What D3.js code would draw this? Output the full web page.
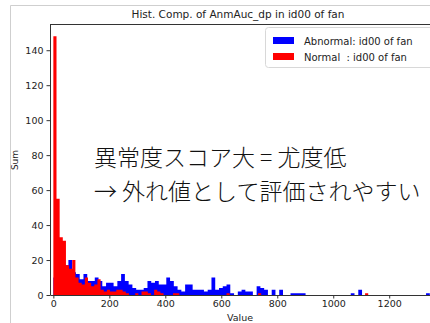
<!DOCTYPE html>
<html>
<head>
  <meta charset="utf-8">
  <script src="https://d3js.org/d3.v7.min.js"></script>
  <style>
    body { margin: 0; background: #fff; }
    text { font-family: "DejaVu Sans", sans-serif; fill: #222; }
  </style>
</head>
<body>
<svg id="chart" width="430" height="323"></svg>
<script>
  // histogram counts, 100 bins each (left edge = binStart + i * binWidth)
  let redStart = 0, redWidth = 11.25;
  let redCounts = [
    148, 55, 33, 31, 17, 15, 20, 10, 7, 6,
    10, 7, 5, 6, 9, 3, 2, 3, 2, 2,
    3, 3, 2, 1, 0, 0, 1, 0, 2, 2,
    1, 0, 3, 2, 1, 0, 0, 0, 1, 1,
    0, 0, 0, 0, 0, 0, 0, 0, 0, 0,
    0, 0, 0, 0, 0, 1, 0, 0, 0, 0,
    0, 0, 0, 0, 0, 1, 0, 0, 0, 0,
    0, 0, 0, 0, 0, 0, 0, 0, 0, 0,
    0, 0, 0, 0, 0, 0, 0, 0, 0, 0,
    0, 0, 0, 0, 0, 0, 0, 0, 0, 1
  ];
  let blueStart = 0, blueWidth = 13.45;
  let blueCounts = [
    10, 10, 12, 17, 20, 13, 12, 9, 12, 8,
    8, 10, 8, 5, 7, 7, 5, 8, 12, 8,
    6, 4, 3, 3, 4, 8, 7, 8, 6, 6,
    10, 8, 5, 3, 2, 6, 6, 3, 3, 3,
    2, 3, 10, 3, 4, 5, 6, 1, 0, 2,
    3, 2, 2, 0, 5, 4, 3, 0, 3, 0,
    3, 0, 0, 1, 1, 1, 1, 0, 0, 0,
    0, 0, 0, 0, 0, 0, 0, 0, 0, 1,
    0, 3, 0, 0, 0, 0, 0, 0, 0, 0,
    0, 0, 0, 0, 0, 0, 0, 0, 0, 1
  ];
  let yTicks = [0, 20, 40, 60, 80, 100, 120, 140];
  let xTicks = [0, 200, 400, 600, 800, 1000, 1200];
  let series = [
    { name: "Abnormal: id00 of fan", color: "#0000ff", start: blueStart, width: blueWidth, counts: blueCounts },
    { name: "Normal  : id00 of fan", color: "#ff0000", start: redStart, width: redWidth, counts: redCounts }
  ];
  let title = "Hist. Comp. of AnmAuc_dp in id00 of fan";
  let note = ["異常度スコア大 = 尤度低", "→ 外れ値として評価されやすい"];

  let margins = { left: 50, top: 24, bottom: 295, right: 434 };
  let svg = d3.select("#chart");

  // screenshot panel border
  svg.append("path")
    .attr("d", "M10.5,323V5.5H430")
    .attr("fill", "none")
    .attr("stroke", "#cfcfcf");

  let x = d3.scaleLinear().domain([-12, 1360]).range([margins.left, margins.right]);
  let y = d3.scaleLinear().domain([0, 155]).range([margins.bottom, margins.top]);

  let area = d3.area()
    .curve(d3.curveStepAfter)
    .x(d => x(d[0]))
    .y0(y(0))
    .y1(d => y(d[1]));

  series.forEach(s => {
    let pts = s.counts.map((c, i) => [s.start + i * s.width, c]);
    pts.push([s.start + s.counts.length * s.width, s.counts[s.counts.length - 1]]);
    svg.append("path")
      .attr("d", area(pts))
      .attr("fill", s.color);
  });

  // axes
  let yAxis = svg.append("g")
    .attr("transform", `translate(${margins.left},0)`)
    .call(d3.axisLeft(y).tickValues(yTicks).tickSize(3.5).tickSizeOuter(0).tickPadding(3));
  let xAxis = svg.append("g")
    .attr("transform", `translate(0,${margins.bottom})`)
    .call(d3.axisBottom(x).tickValues(xTicks).tickSize(3.5).tickSizeOuter(0).tickPadding(2).tickFormat(d3.format("d")));
  [yAxis, xAxis].forEach(a => {
    a.selectAll("text").attr("font-size", 9.5).attr("font-family", "DejaVu Sans");
    a.selectAll("line, path").attr("stroke", "#333");
  });
  svg.append("path")
    .attr("d", `M${margins.left},${margins.top + 0.5}H430`)
    .attr("stroke", "#333")
    .attr("fill", "none");

  svg.append("text")
    .attr("x", 238).attr("y", 18)
    .attr("text-anchor", "middle")
    .attr("font-size", 10.5)
    .text(title);
  svg.append("text")
    .attr("x", 240).attr("y", 321)
    .attr("text-anchor", "middle")
    .attr("font-size", 9.5)
    .text("Value");
  svg.append("text")
    .attr("transform", "translate(18,160)rotate(-90)")
    .attr("text-anchor", "middle")
    .attr("font-size", 9)
    .text("Sum");

  // legend
  let legend = svg.append("g");
  legend.append("rect")
    .attr("x", 265.5).attr("y", 27.5)
    .attr("width", 175).attr("height", 40)
    .attr("rx", 3)
    .attr("fill", "#fff").attr("fill-opacity", 0.8)
    .attr("stroke", "#d8d8d8");
  series.forEach((s, i) => {
    legend.append("rect")
      .attr("x", 273).attr("y", 37 + i * 16)
      .attr("width", 21).attr("height", 7)
      .attr("fill", s.color);
    legend.append("text")
      .attr("x", 304).attr("y", 44.5 + i * 16)
      .attr("font-size", 10)
      .style("white-space", "pre")
      .text(s.name);
  });

  // annotation
  svg.selectAll(".note")
    .data(note).enter()
    .append("text")
    .attr("class", "note")
    .attr("x", 94)
    .attr("y", (d, i) => 166 + i * 34)
    .attr("font-size", 23)
    .style("font-family", "'Noto Sans CJK JP', sans-serif")
    .style("font-weight", 300)
    .style("fill", "#111")
    .style("white-space", "pre")
    .text(d => d);
</script>
</body>
</html>
